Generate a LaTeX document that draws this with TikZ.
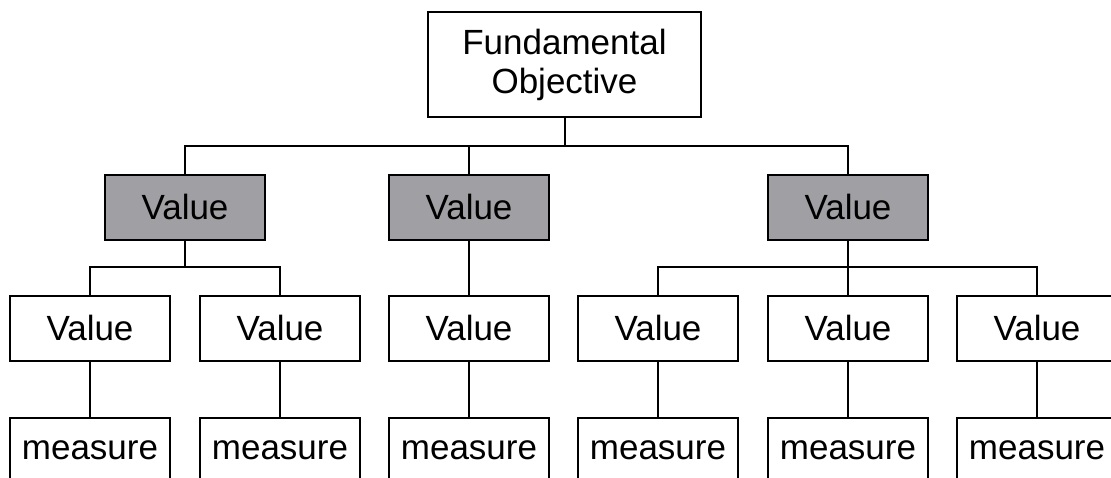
\documentclass[tikz,border=0pt]{standalone}
\usepackage{fontspec}
\setmainfont{Liberation Sans}
\definecolor{valuegray}{RGB}{160,159,164}
\begin{document}
\begin{tikzpicture}[x=1pt,y=-1pt,
  box/.style={draw=black,line width=2pt,fill=white,minimum width=160pt,minimum height=65pt,
    inner sep=0pt,font=\fontsize{35}{39}\selectfont,align=center},
  topbox/.style={box,minimum width=273pt,minimum height=105pt},
  graybox/.style={box,fill=valuegray},
  link/.style={draw=black,line width=2pt}]
\useasboundingbox (0,0) rectangle (1111,477);
\clip (0,0) rectangle (1111,477);

% root
\node[topbox] (top) at (564.5,64.5) {Fundamental\\Objective};

% first level values
\node[graybox] (g1) at (185,207) {Value};
\node[graybox] (g2) at (469,207) {Value};
\node[graybox] (g3) at (848,207) {Value};

% second level values
\node[box] (v1) at (90,328) {Value};
\node[box] (v2) at (280,328) {Value};
\node[box] (v3) at (469,328) {Value};
\node[box] (v4) at (658,328) {Value};
\node[box] (v5) at (848,328) {Value};
\node[box] (v6) at (1037,328) {Value};

% measures
\node[box] (m1) at (90,450.5) {measure};
\node[box] (m2) at (280,450.5) {measure};
\node[box] (m3) at (469,450.5) {measure};
\node[box] (m4) at (658,450.5) {measure};
\node[box] (m5) at (848,450.5) {measure};
\node[box] (m6) at (1037,450.5) {measure};

% junction points
\coordinate (bar0) at (564.5,146);
\coordinate (bar1) at (185,267);
\coordinate (bar3) at (848,267);

% connectors
\draw[link] (top.south) -- (bar0);
\draw[link] (g1.north) |- (bar0) -| (g3.north);
\draw[link] (bar0 -| g2.north) -- (g2.north);

\draw[link] (g1.south) -- (bar1);
\draw[link] (v1.north) |- (bar1) -| (v2.north);
\draw[link] (g2.south) -- (v3.north);
\draw[link] (g3.south) -- (bar3);
\draw[link] (v4.north) |- (bar3) -| (v6.north);
\draw[link] (bar3) -- (v5.north);

\foreach \i in {1,...,6} {
  \draw[link] (v\i.south) -- (m\i.north);
}
\end{tikzpicture}
\end{document}
